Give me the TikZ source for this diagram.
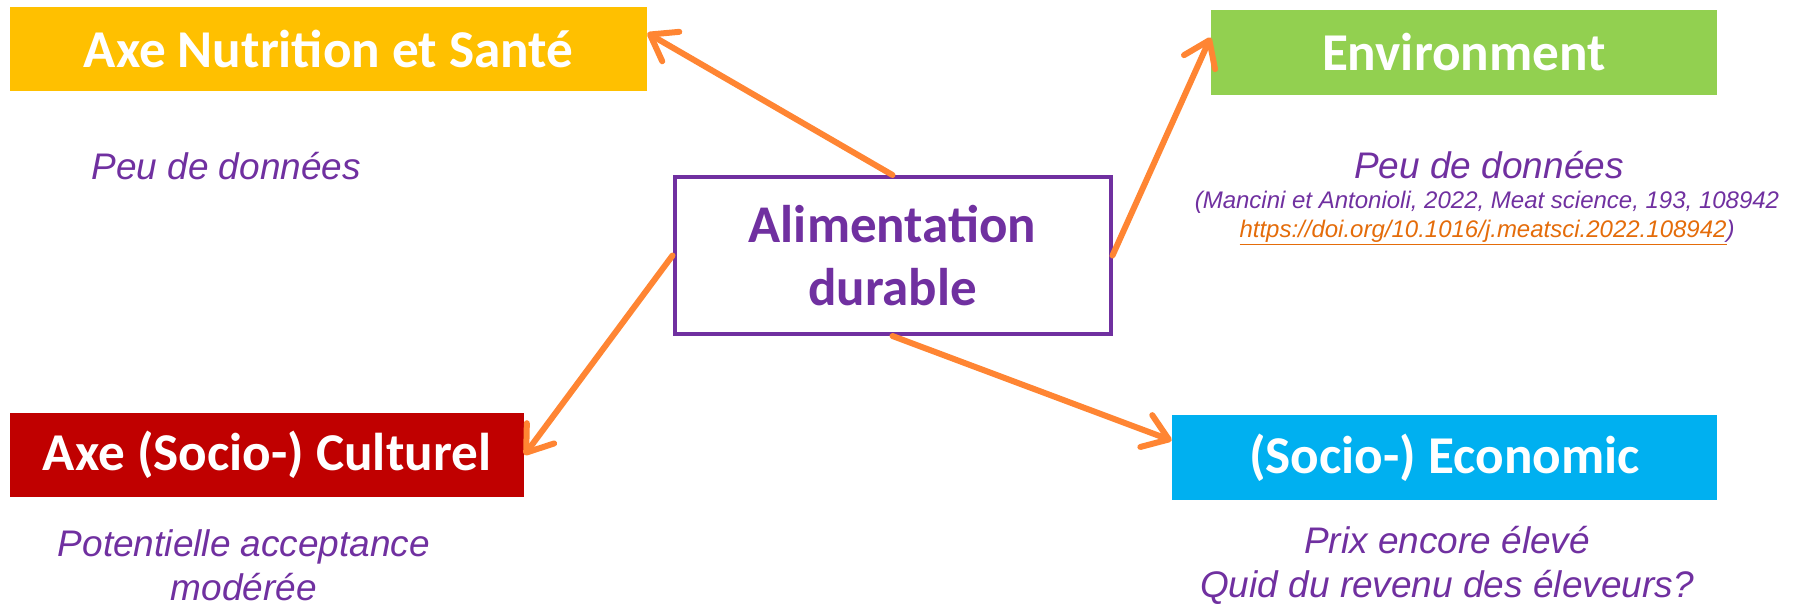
\documentclass[tikz,border=0pt]{standalone}
\usepackage{fontspec}
\setmainfont{Carlito}
\newfontfamily\arialfont{Liberation Sans}
\usetikzlibrary{arrows.meta, calc}
\definecolor{axe yellow}{HTML}{FFC000}
\definecolor{axe green}{HTML}{92D050}
\definecolor{axe red}{HTML}{C00000}
\definecolor{axe blue}{HTML}{00B0F0}
\definecolor{durable}{HTML}{7030A0}
\definecolor{arrow orange}{HTML}{FF8533}
\definecolor{doi link}{HTML}{E46C0A}
\tikzset{
  axe/.style={inner sep=0pt, text=white, font=\fontsize{26.6}{31}\selectfont\bfseries},
  centre/.style={draw=durable, line width=2pt, inner sep=0pt, minimum width=218pt, minimum height=78.5pt,
    align=center, text=durable, font=\fontsize{26.5}{31.5}\selectfont\bfseries},
  remark/.style={text=durable, inner sep=0pt, align=center, font=\arialfont\itshape\fontsize{18.5}{22}\selectfont},
  cite/.style={remark, font=\arialfont\itshape\fontsize{12}{14.5}\selectfont},
  edge/.style={draw=arrow orange, line width=3pt, line cap=round, -{Straight Barb[length=12pt, width=17pt, round]}}
}
\begin{document}
\begin{tikzpicture}[x=0.5pt, y=-0.5pt]
    \useasboundingbox (0,0) rectangle (1795,606);
    \node[axe, fill=axe yellow, minimum width=318.5pt, minimum height=42pt] (nut) at (328.5,49) {Axe Nutrition et Santé};
    \node[axe, fill=axe green, minimum width=253pt, minimum height=42.5pt] (env) at (1464,52.5) {Environment};
    \node[axe, fill=axe red, minimum width=257pt, minimum height=42pt] (cult) at (267,455) {Axe (Socio-) Culturel};
    \node[axe, fill=axe blue, minimum width=272.5pt, minimum height=42.5pt] (eco) at (1444.5,457.5) {(Socio-) Economic};
    \node[centre] (alim) at (892.5,255.5) {Alimentation\\durable};
    \node[remark, anchor=base west] (nutnote) at (91,179) {Peu de données};
    \node[remark, anchor=base] (envnote) at (1489,178) {Peu de données};
    \node[cite, anchor=base] (envcite) at (1487,237) {(Mancini et Antonioli, 2022, Meat science, 193, 108942\\
        \textcolor{doi link}{\underline{https://doi.org/10.1016/j.meatsci.2022.108942}})};
    \node[remark, anchor=base] (cultnote) at (244,600) {Potentielle acceptance\\modérée};
    \node[remark, anchor=base] (econote) at (1447,597) {Prix encore élevé\\Quid du revenu des éleveurs?};
    \draw[edge] (alim.north) -- ($(nut.east)+(0,-16)$);
    \draw[edge] (alim.east) -- ($(env.west)+(0,-15)$);
    \draw[edge] (alim.west) -- (cult.east);
    \draw[edge] (alim.south) -- ($(eco.west)+(0,-17)$);
\end{tikzpicture}
\end{document}
